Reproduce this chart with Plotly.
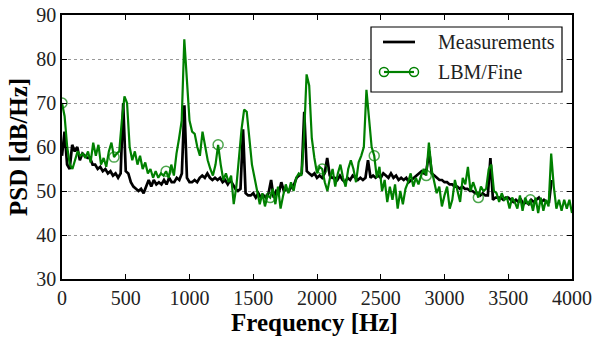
import numpy as np
import plotly.graph_objects as go

# ---------------- data ----------------
meas_step = 20.0
meas_psd = [
    58, 63.5, 56, 55, 60.5, 59, 60, 57, 58.5, 58,
    57.5, 57.5, 56, 56, 55, 55.5, 54.5, 55, 54, 54.5,
    53.5, 54, 53, 54, 70, 54.5, 54, 52, 51, 50.5,
    50, 50.5, 49.5, 51, 52.5, 51, 52.5, 51.5, 52, 51.5,
    52.5, 51.5, 53, 52, 52, 53, 52.5, 54, 69.5, 53,
    52, 52, 52.5, 52, 53, 53.5, 53, 54, 53, 52.5,
    53, 52.5, 53, 52, 52.5, 51.5, 52.5, 51.5, 50.5, 50,
    50.5, 64, 49.5, 49, 49, 49.5, 48.5, 49.5, 48.5, 49,
    48.5, 49.5, 52.5, 48.5, 50, 49.5, 52, 50, 50.5, 50,
    51, 51.5, 53, 53.5, 54, 68, 54.5, 54, 53.5, 54,
    53, 53.5, 53, 54, 57.5, 53.5, 53, 53, 52.5, 53.5,
    52.5, 52, 53, 52.5, 53.5, 53, 52.5, 53, 52.5, 53,
    57, 53, 53.5, 53, 53.5, 53, 54, 53.5, 53, 54,
    53, 53.5, 52.5, 53, 52.5, 53, 52, 52.5, 53, 53.5,
    54, 54.5, 54, 55, 59, 54, 53.5, 53, 52.5, 52.5,
    52, 52, 51.5, 51.5, 51, 51, 50.5, 51, 50.5, 50.5,
    50, 50, 49.5, 49.5, 49, 49.5, 49, 49, 57.5, 48,
    48.5, 48.5, 48.5, 48, 48.5, 48.5, 48, 47.5, 48, 47.5,
    48, 47, 47.5, 47, 48, 47.5, 48, 48.5, 47.5, 48,
    47.5, 47.5, 52.5,
]
meas_freq = [meas_step * i for i in range(len(meas_psd))]

lbm_step = 4000.0 / 196
lbm_psd = [
    70, 67, 60, 56, 55, 57, 59, 58, 58.5, 57.5,
    59, 56.5, 61, 58, 60.5, 56, 57.5, 55.5, 59, 61,
    57.7, 58.5, 59, 66, 71.5, 70, 60, 57, 59, 56,
    58, 55, 56.5, 54, 55, 53, 54.5, 53, 54, 53.5,
    54.5, 53, 56, 53.5, 58.5, 62, 66, 84.5, 74, 66,
    63.5, 63, 60, 58, 63.5, 60, 57, 55, 53.5, 56,
    60.5, 56, 52.5, 54, 52, 53.5, 47, 51, 58, 64,
    68.5, 68, 62, 56, 53, 50, 47, 49.5, 46.5, 49,
    48.5, 50.5, 47, 51, 46, 49, 51.5, 49.5, 52, 50,
    53, 54, 53.5, 62, 76.5, 74, 62, 57.5, 54, 55.5,
    55, 52, 50, 53, 55, 51, 54, 56, 53, 51,
    55, 57, 55, 52, 56.5, 58, 60, 73, 66, 60,
    58, 53, 55.5, 50, 52.5, 47.5, 51, 48, 51.5, 46,
    50, 47, 50.5, 52, 54, 51, 53, 51.5, 53.5, 55,
    53.5, 61, 55, 52, 49.5, 51, 46.5, 49, 51, 46,
    48, 52.5, 50, 47.5, 53, 51.5, 55.5, 50, 52, 50,
    48.5, 51, 50, 50.5, 55, 56, 50, 49.5, 47.5, 49.5,
    48, 48.5, 46, 48.5, 47.5, 46, 49, 45.5, 48.5, 47,
    48, 45.5, 48.5, 45, 48.5, 45.5, 48, 46.5, 58.5, 51,
    46, 48, 45.5, 48, 46, 48, 45,
]
lbm_freq = [lbm_step * i for i in range(len(lbm_psd))]
marker_every = 20

x_ticks = [0, 500, 1000, 1500, 2000, 2500, 3000, 3500, 4000]
y_ticks = [30, 40, 50, 60, 70, 80, 90]

series_names = ["Measurements", "LBM/Fine"]
x_title = "Frequency [Hz]"
y_title = "PSD [dB/Hz]"
GREEN = "#008000"
FONT = "Liberation Serif"

# ---------------- figure ----------------
marker_sizes = [10 if i % marker_every == 0 else 0 for i in range(len(lbm_psd))]

fig = go.Figure()
fig.add_trace(go.Scatter(
    x=meas_freq, y=meas_psd, mode="lines", name=series_names[0],
    line=dict(color="black", width=2.7), showlegend=False,
))
fig.add_trace(go.Scatter(
    x=lbm_freq, y=lbm_psd, mode="lines+markers", name=series_names[1],
    line=dict(color=GREEN, width=2.2),
    marker=dict(symbol="circle-open", size=marker_sizes, color=GREEN,
                line=dict(color=GREEN, width=1.5)),
    showlegend=False, cliponaxis=True,
))

axis_common = dict(
    showline=True, linecolor="black", linewidth=1.5, mirror="allticks",
    ticks="inside", ticklen=5, tickwidth=1, tickcolor="black",
    tickfont=dict(family=FONT, size=20, color="#222"),
    zeroline=False, automargin=False,
)
fig.update_xaxes(range=[0, 4000], tickvals=x_ticks, showgrid=False, **axis_common)
fig.update_yaxes(
    range=[30, 90], tickvals=y_ticks, showgrid=True,
    gridcolor="#999", griddash="dot", gridwidth=1,
    **axis_common,
)

# custom legend (matplotlib-style, two markers on the line sample)
def px_x(p):
    return (p - 62) / 510.0

def px_y(p):
    return (279 - p) / 264.0

shapes = [
    dict(type="rect", xref="paper", yref="paper",
         x0=px_x(371), x1=px_x(562), y0=px_y(92), y1=px_y(27),
         line=dict(color="black", width=1.2), fillcolor="white", layer="above"),
    dict(type="line", xref="paper", yref="paper",
         x0=px_x(383), x1=px_x(415), y0=px_y(42), y1=px_y(42),
         line=dict(color="black", width=2.7), layer="above"),
    dict(type="line", xref="paper", yref="paper",
         x0=px_x(384), x1=px_x(414), y0=px_y(72), y1=px_y(72),
         line=dict(color=GREEN, width=2.2), layer="above"),
]
for cx in (384, 414):
    shapes.append(dict(type="circle", xref="paper", yref="paper",
                       xsizemode="pixel", ysizemode="pixel",
                       xanchor=px_x(cx), yanchor=px_y(72),
                       x0=-4.5, x1=4.5, y0=-4.5, y1=4.5,
                       line=dict(color=GREEN, width=1.5), layer="above"))

annotations = [
    dict(text=series_names[0], xref="paper", yref="paper", x=px_x(436), y=px_y(42),
         xanchor="left", yanchor="middle", showarrow=False,
         font=dict(family=FONT, size=20, color="#222")),
    dict(text=series_names[1], xref="paper", yref="paper", x=px_x(436), y=px_y(72),
         xanchor="left", yanchor="middle", showarrow=False,
         font=dict(family=FONT, size=20, color="#222")),
    dict(text="<b>" + x_title + "</b>", xref="paper", yref="paper",
         x=px_x(314), y=px_y(322), xanchor="center", yanchor="middle", showarrow=False,
         font=dict(family=FONT, size=25, color="black")),
    dict(text="<b>" + y_title + "</b>", xref="paper", yref="paper",
         x=px_x(18), y=px_y(147), xanchor="center", yanchor="middle", showarrow=False,
         textangle=-90, font=dict(family=FONT, size=25, color="black")),
]

fig.update_layout(
    width=595, height=341,
    margin=dict(l=62, r=23, t=15, b=62),
    paper_bgcolor="white", plot_bgcolor="white",
    shapes=shapes, annotations=annotations,
    showlegend=False,
)

fig.write_html("out.html")
